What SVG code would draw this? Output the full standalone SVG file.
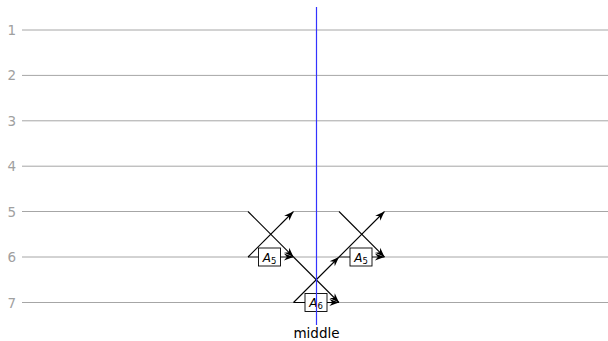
<svg xmlns="http://www.w3.org/2000/svg" width="608" height="341" viewBox="0 0 608 341">
<style>
.lvl{stroke:#a6a6a6;stroke-width:1;fill:none}
.num{font-family:"DejaVu Sans","Liberation Sans",sans-serif;font-size:13.5px;fill:#a0a0a0;text-anchor:end}
.ed{stroke:#000;stroke-width:1.1;fill:none;marker-end:url(#ah)}
.box{fill:#fff;stroke:#000;stroke-width:0.9}
.bt{font-family:"DejaVu Sans","Liberation Sans",sans-serif;font-size:12px;fill:#000;text-anchor:middle}
.mid{font-family:"DejaVu Sans","Liberation Sans",sans-serif;font-size:13.5px;fill:#000;text-anchor:middle}
</style>
<defs>
<marker id="ah" markerUnits="userSpaceOnUse" markerWidth="12" markerHeight="10" refX="0" refY="0" viewBox="-9 -4 10 8" orient="auto">
<path d="M0,0 L-8,-3 L-5.5,0 L-8,3 Z" fill="#000"/>
</marker>
</defs>
<g id="levels">
<line class="lvl" x1="22" y1="30" x2="608" y2="30"/>
<line class="lvl" x1="22" y1="75.4" x2="608" y2="75.4"/>
<line class="lvl" x1="22" y1="120.8" x2="608" y2="120.8"/>
<line class="lvl" x1="22" y1="166.2" x2="608" y2="166.2"/>
<path class="lvl" d="M22,211.5H248M293.5,211.5H339M384.5,211.5H608"/>
<path class="lvl" d="M22,257H248M293.5,257H339M384.5,257H608"/>
<path class="lvl" d="M22,302.5H293.5M339,302.5H608"/>
<text class="num" x="16" y="35">1</text>
<text class="num" x="16" y="80.4">2</text>
<text class="num" x="16" y="125.8">3</text>
<text class="num" x="16" y="171.2">4</text>
<text class="num" x="16" y="216.5">5</text>
<text class="num" x="16" y="262">6</text>
<text class="num" x="16" y="307.5">7</text>
</g>
<g id="connectors">
<line class="ed" x1="248" y1="211.5" x2="293.5" y2="257"/>
<line class="ed" x1="248" y1="257" x2="293.5" y2="211.5"/>
<line class="ed" x1="248" y1="257" x2="293.5" y2="257"/>
<line class="ed" x1="293.5" y1="257" x2="339" y2="302.5"/>
<line class="ed" x1="293.5" y1="302.5" x2="339" y2="257"/>
<line class="ed" x1="293.5" y1="302.5" x2="339" y2="302.5"/>
<line class="ed" x1="339" y1="211.5" x2="384.5" y2="257"/>
<line class="ed" x1="339" y1="257" x2="384.5" y2="211.5"/>
<line class="ed" x1="339" y1="257" x2="384.5" y2="257"/>
</g>
<g id="boxA5left">
<rect class="box" x="258.5" y="248" width="22" height="18"/>
<text class="bt" x="269.5" y="261.5"><tspan font-style="italic">A</tspan><tspan font-size="8.5" dy="2">5</tspan></text>
</g>
<g id="boxA5right">
<rect class="box" x="350" y="248" width="22" height="18"/>
<text class="bt" x="361" y="261.5"><tspan font-style="italic">A</tspan><tspan font-size="8.5" dy="2">5</tspan></text>
</g>
<g id="boxA6">
<rect class="box" x="305" y="293.5" width="22" height="18"/>
<text class="bt" x="316" y="307"><tspan font-style="italic">A</tspan><tspan font-size="8.5" dy="2">6</tspan></text>
</g>
<g id="middle">
<line x1="316.5" y1="7" x2="316.5" y2="325" stroke="#3333ff" stroke-width="1.2"/>
<text class="mid" x="316.5" y="338">middle</text>
</g>
</svg>
